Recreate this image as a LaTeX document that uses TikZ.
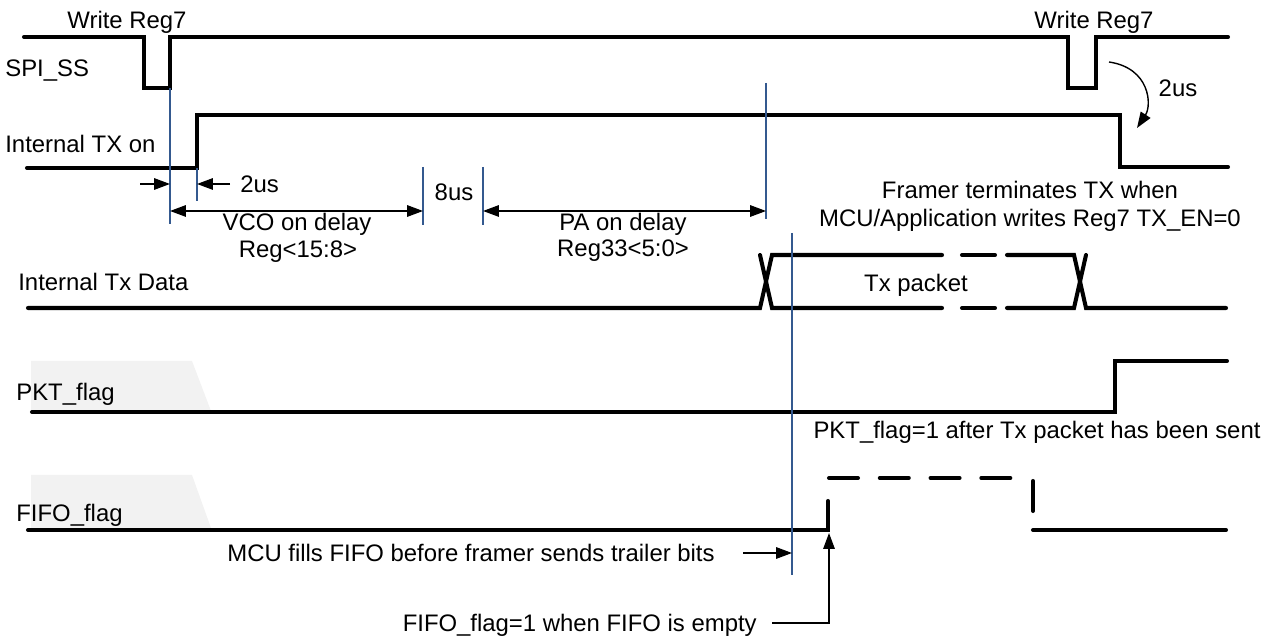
\documentclass[tikz,border=0pt]{standalone}
\usepackage{fontspec}
\setmainfont{Liberation Sans}
\usetikzlibrary{arrows.meta}
\definecolor{markblue}{HTML}{34598F}
\definecolor{flagshade}{HTML}{F2F2F2}

\begin{document}
\begin{tikzpicture}[
    x = 0.02cm,
    y = -0.02cm,
    >={Triangle[length=9pt,width=6.5pt]},
    sig/.style = {black, line width=2.3pt, line cap=round},
    marker/.style = {draw=markblue, line width=0.7pt},
    dim/.style = {black, line width=0.8pt},
    lbl/.style = {inner sep=0pt, text height=10pt, text depth=0.5pt,
              font=\fontsize{13.6}{15}\selectfont},
    ]

\useasboundingbox (0,0) rectangle (1275,644);

\fill[flagshade] (31,361) -- (192,361) -- (211,411) -- (31,411) -- cycle;
\fill[flagshade] (31,475) -- (192,475) -- (211,528) -- (31,528) -- cycle;

\node[lbl, anchor=west] (lbl_spi) at (5,68) {SPI\_SS};
\node[lbl, anchor=west] (lbl_txon) at (5,144) {Internal TX on};
\node[lbl, anchor=west] (lbl_txdata) at (18,282) {Internal Tx Data};
\node[lbl, anchor=west] (lbl_pkt) at (16,392) {PKT\_flag};
\node[lbl, anchor=west] (lbl_fifo) at (16,513) {FIFO\_flag};

\draw [sig] (24,37) -- (144,37) -- (144,88) -- (170,88) -- (170,37) -- (1068,37)
    -- (1068,88) -- (1096,88) -- (1096,37) -- (1228,37);
\draw [sig] (27,168) -- (197,168) -- (197,115) -- (1120,115) -- (1120,167) -- (1228,167);

\draw [sig] (28,308) -- (760,308) -- (772,255) -- (942,255);
\draw [sig] (760,255) -- (772,308) -- (942,308);
\draw [sig] (962,255) -- (995,255);
\draw [sig] (962,308) -- (995,308);
\draw [sig] (1007,255) -- (1074,255) -- (1086,308) -- (1226,308);
\draw [sig] (1007,308) -- (1074,308) -- (1086,255);

\draw [sig] (32,412) -- (1115,412) -- (1115,361) -- (1227,361);

\draw [sig] (28,530) -- (828,530) -- (828,501);
\draw [sig, dash pattern=on 16.5pt off 12.4pt] (829,478) -- (1016,478);
\draw [sig] (1033,481) -- (1033,511);
\draw [sig] (1033,530) -- (1226,530);

\draw [marker] (170,88) -- (170,224);
\draw [marker] (197,168) -- (197,201);
\draw [marker] (423,167) -- (423,225);
\draw [marker] (483,167) -- (483,225);
\draw [marker] (766,83) -- (766,219);
\draw [marker] (792,233) -- (792,575);

\coordinate (ss_in) at (140,184);
\coordinate (ss_edge) at (170,184);
\coordinate (tx_in) at (230,184);
\coordinate (tx_edge) at (197,184);
\draw [->, dim] (ss_in) -- (ss_edge);
\draw [->, dim] (tx_in) -- (tx_edge);
\node[lbl, anchor=west] (lbl_2us_a) at (240,184) {2us};

\coordinate (vco_start) at (170,211);
\coordinate (vco_end) at (423,211);
\coordinate (pa_start) at (483,211);
\coordinate (pa_end) at (766,211);
\draw [<->, dim] (vco_start) -- (vco_end);
\draw [<->, dim] (pa_start) -- (pa_end);
\node[lbl] (lbl_vco) at (297,222) {VCO on delay};
\node[lbl] (lbl_vco_reg) at (298,249) {Reg<15:8>};
\node[lbl] (lbl_8us) at (454,192) {8us};
\node[lbl] (lbl_pa) at (623,222) {PA on delay};
\node[lbl] (lbl_pa_reg) at (623,248) {Reg33<5:0>};

\node[lbl] (lbl_write_a) at (127,20) {Write Reg7};
\node[lbl] (lbl_write_b) at (1094,20) {Write Reg7};

\coordinate (ss_up) at (1109,62);
\coordinate (tx_down) at (1137,128);
\draw [->, dim] (ss_up) .. controls (1150,68) and (1152,105) .. (tx_down);
\node[lbl] (lbl_2us_b) at (1178,88) {2us};

\node[lbl] (lbl_framer) at (1030,190) {Framer terminates TX when};
\node[lbl] (lbl_framer_b) at (1030,218) {MCU/Application writes Reg7 TX\_EN=0};
\node[lbl] (lbl_packet) at (916,283) {Tx packet};
\node[lbl] (lbl_pkt_sent) at (1037,430) {PKT\_flag=1 after Tx packet has been sent};

\node[lbl, anchor=east] (lbl_fill) at (715,553) {MCU fills FIFO before framer sends trailer bits};
\coordinate (fill_edge) at (792,553);
\draw [->, dim] (743,553) -- (fill_edge);

\node[lbl, anchor=east] (lbl_empty) at (757,623) {FIFO\_flag=1 when FIFO is empty};
\coordinate (empty_turn) at (829,623);
\coordinate (empty_edge) at (829,533);
\draw [->, dim] (772,623) -- (empty_turn) -- (empty_edge);

\end{tikzpicture}
\end{document}
